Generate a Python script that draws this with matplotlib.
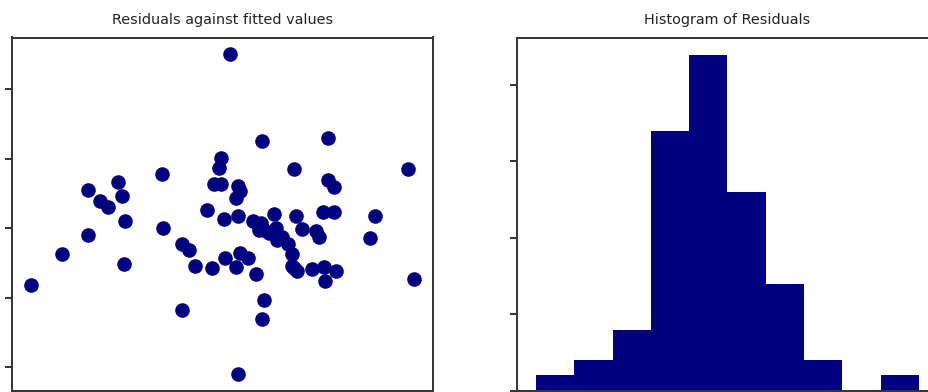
import numpy as np
import matplotlib
matplotlib.use('Agg')
import matplotlib.pyplot as plt

# ── regression diagnostics: fitted values and their residuals ─────────────────
fitted = [
    7.15, 8.95, 10.45, 10.45, 11.17, 11.60, 12.18, 12.45, 12.61, 12.53,
    14.76, 14.83, 15.92, 16.34, 15.92, 16.68, 17.36, 17.67, 18.17, 18.05,
    17.77, 18.19, 19.20, 19.08, 18.38, 19.16, 18.73, 19.16, 18.42, 19.08,
    19.31, 19.76, 20.22, 20.70, 20.57, 20.57, 20.03, 20.51, 21.25, 20.70,
    20.99, 21.40, 21.44, 22.09, 22.31, 22.44, 22.64, 22.44, 22.56, 22.89,
    23.71, 23.90, 23.51, 24.18, 24.24, 24.91, 24.11, 24.75, 24.39, 24.39,
    24.78, 26.84, 27.13, 29.06, 29.41, 19.29, 21.72, 20.40, 22.33,
]
residuals = [
    -0.81, -0.37, -0.10, 0.55, 0.39, 0.30, 0.67, 0.47, 0.10, -0.52,
    0.78, 0.00, -0.23, -0.31, -1.18, -0.54, 0.26, -0.57, 1.01, 0.87,
    0.63, 0.63, 0.61, 0.44, 0.13, 0.18, 2.51, -2.10, -0.43, -0.55,
    -0.36, -0.43, -0.66, -1.03, -1.31, 1.25, 0.10, 0.08, 0.20, -0.02,
    -0.07, 0.01, -0.17, -0.23, -0.37, -0.57, -0.61, 0.85, 0.18, -0.01,
    -0.04, -0.12, -0.59, -0.56, -0.76, -0.62, 0.23, 0.23, 1.30, 0.69,
    0.59, -0.14, 0.18, 0.85, -0.73, 0.54, -0.12, -0.03, -0.54,
]

fitted_ticks = [10, 15, 20, 25, 30]
resid_ticks = [-2, -1, 0, 1, 2]
count_ticks = [0, 5, 10, 15, 20]

NAVY = '#000080'
EDGE = '#333333'

fig = plt.figure(figsize=(9.29, 3.92), dpi=100)
ax1 = fig.add_axes([12 / 929, 1.5 / 392, 421 / 929, 353 / 392])
ax2 = fig.add_axes([517 / 929, 1.3 / 392, 421 / 929, 353 / 392])

# scatter of residuals against fitted values
ax1.scatter(fitted, residuals, s=110, color=NAVY, linewidths=0)
ax1.set_xticks(fitted_ticks)
ax1.set_yticks(resid_ticks)
ax1.set_title('Residuals against fitted values', fontsize=10.4, pad=10,
              color='#222222')

# histogram of the same residuals
ax2.hist(residuals, bins=10, color=NAVY)
ax2.set_xticks(resid_ticks)
ax2.set_yticks(count_ticks)
ax2.set_title('Histogram of Residuals', fontsize=10.4, pad=10,
              color='#222222')

for ax in (ax1, ax2):
    ax.tick_params(labelleft=False, labelbottom=False, length=5, width=1.4,
                   color=EDGE)
    for spine in ax.spines.values():
        spine.set_linewidth(1.4)
        spine.set_edgecolor(EDGE)

fig.savefig('out.png', dpi=100)
